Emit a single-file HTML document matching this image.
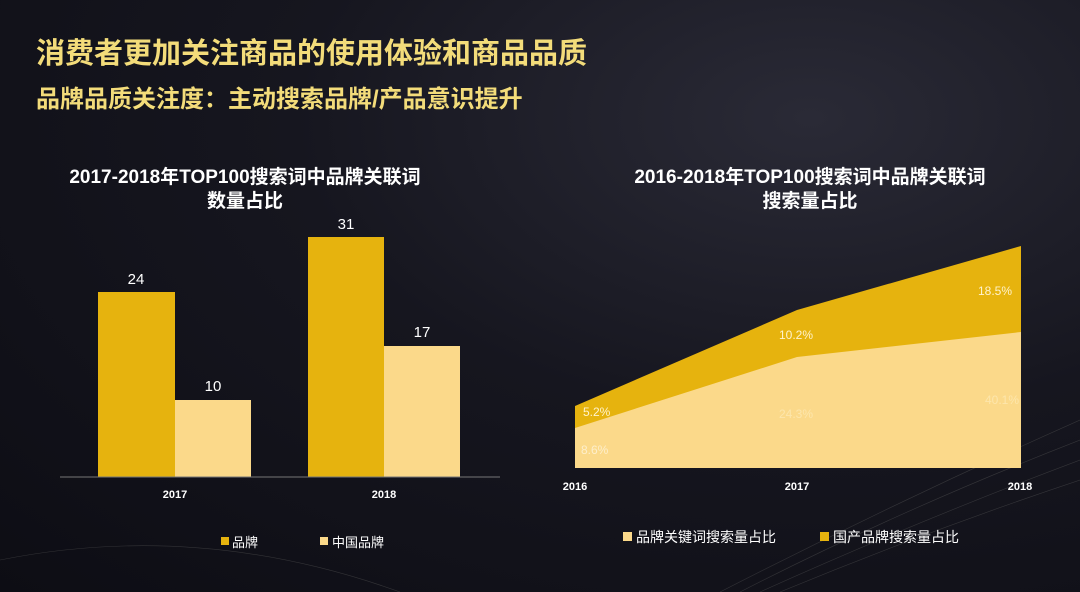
<!DOCTYPE html>
<html><head><meta charset="utf-8"><style>
body{margin:0;width:1080px;height:592px;overflow:hidden;background:radial-gradient(ellipse at 75% 20%,#2a2a36 0%,#16161f 45%,#0d0d14 100%);font-family:"Liberation Sans","Noto Sans CJK SC",sans-serif;position:relative}
.t{position:absolute;white-space:nowrap;font-weight:bold}
</style></head><body>
<div class="t" style="left:36px;top:30px;font-size:29px;color:#f3dc7a">消费者更加关注商品的使用体验和商品品质</div>
<div class="t" style="left:36px;top:79px;font-size:24px;color:#f3dc7a">品牌品质关注度：主动搜索品牌/产品意识提升</div>
<div class="t" style="left:40px;top:166px;width:410px;text-align:center;font-size:19px;line-height:24px;color:#fff">2017-2018年TOP100搜索词中品牌关联词<br>数量占比</div>
<div class="t" style="left:590px;top:166px;width:440px;text-align:center;font-size:19px;line-height:24px;color:#fff">2016-2018年TOP100搜索词中品牌关联词<br>搜索量占比</div>
<svg width="1080" height="592" style="position:absolute;left:0;top:0" font-family="Liberation Sans,Noto Sans CJK SC,sans-serif">
<g stroke="#555" stroke-width="0.6" fill="none" opacity="0.5">
<path d="M720 592 Q900 500 1080 420"/><path d="M740 592 Q900 510 1080 440"/><path d="M760 592 Q920 520 1080 460"/><path d="M780 592 Q930 530 1080 480"/><path d="M0 560 Q200 520 400 592"/>
</g>
<rect x="98" y="292" width="77" height="185" fill="#e6b30e"/>
<rect x="175" y="400" width="76" height="77" fill="#fbd98a"/>
<rect x="308" y="237" width="76" height="240" fill="#e6b30e"/>
<rect x="384" y="346" width="76" height="131" fill="#fbd98a"/>
<line x1="60" y1="477" x2="500" y2="477" stroke="#777" stroke-width="1"/>
<g fill="#fff" font-size="15" text-anchor="middle">
<text x="136" y="284">24</text><text x="213" y="391">10</text><text x="346" y="229">31</text><text x="422" y="337">17</text>
</g>
<g fill="#fff" font-size="11" font-weight="bold" text-anchor="middle"><text x="175" y="498">2017</text><text x="384" y="498">2018</text><text x="575" y="490">2016</text><text x="797" y="490">2017</text><text x="1020" y="490">2018</text></g>
<rect x="221" y="537" width="8" height="8" fill="#e6b30e"/><text x="232" y="547" fill="#fff" font-size="13">品牌</text>
<rect x="320" y="537" width="8" height="8" fill="#fbd98a"/><text x="332" y="547" fill="#fff" font-size="13">中国品牌</text>
<polygon points="575,406 797,310 1021,246 1021,468 575,468" fill="#e6b30e"/>
<polygon points="575,428 797,357 1021,332 1021,468 575,468" fill="#fbd98a"/>
<g font-size="12" fill="#fff3cc"><text x="583" y="416">5.2%</text><text x="779" y="339">10.2%</text><text x="978" y="295">18.5%</text>
<text x="581" y="454" fill="#fff8e6" opacity="0.7">8.6%</text><text x="779" y="418" opacity="0.5">24.3%</text><text x="985" y="404" opacity="0.5">40.1%</text></g>
<rect x="623" y="532" width="9" height="9" fill="#fbd98a"/><text x="636" y="542" fill="#fff" font-size="14">品牌关键词搜索量占比</text>
<rect x="820" y="532" width="9" height="9" fill="#e6b30e"/><text x="833" y="542" fill="#fff" font-size="14">国产品牌搜索量占比</text>
</svg>
</body></html>
